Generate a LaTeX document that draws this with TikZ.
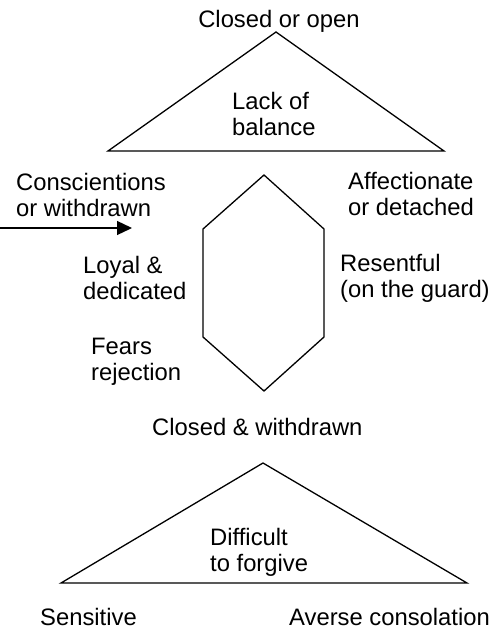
\documentclass[tikz,border=0pt]{standalone}
\usepackage{fontspec}
\setmainfont{Liberation Sans}
\usetikzlibrary{arrows.meta}
\begin{document}
\begin{tikzpicture}[x=1pt,y=-1pt,
  outline/.style={line width=1.3pt, line join=miter},
  lbl/.style={inner sep=0pt, anchor=base west, align=left, font=\fontsize{23.8}{26}\selectfont},
  arr/.style={line width=1.3pt, -{Triangle[length=15pt,width=14pt]}}]
\useasboundingbox (0,0) rectangle (501,632);
% top triangle
\coordinate (tA) at (276,32);
\coordinate (tL) at (108,151);
\coordinate (tR) at (444,151);
\draw[outline] (tA) -- (tR) -- (tL) -- cycle;
% hexagon
\coordinate (h1) at (264,175);
\coordinate (h2) at (324,229);
\coordinate (h3) at (324,337);
\coordinate (h4) at (264,391);
\coordinate (h5) at (203,337);
\coordinate (h6) at (203,229);
\draw[outline] (h1) -- (h2) -- (h3) -- (h4) -- (h5) -- (h6) -- cycle;
% bottom triangle
\coordinate (bA) at (263,463);
\coordinate (bL) at (61,583);
\coordinate (bR) at (467,583);
\draw[outline] (bA) -- (bR) -- (bL) -- cycle;
% arrow
\coordinate (arrS) at (0,228);
\coordinate (arrE) at (132,228);
\draw[arr] (arrS) -- (arrE);
% labels (multi-line nodes: base = last line)
\node[lbl, anchor=base] (closedopen) at (279,27) {Closed or open};
\node[lbl] (lack) at (232,135) {Lack of\\balance};
\node[lbl] (consc) at (16,216) {Conscientions\\or withdrawn};
\node[lbl] (affect) at (348,215) {Affectionate\\or detached};
\node[lbl] (loyal) at (83,299) {Loyal \&\\dedicated};
\node[lbl] (resent) at (340,297) {Resentful\\(on the guard)};
\node[lbl] (fears) at (91,380) {Fears\\rejection};
\node[lbl] (closedw) at (152,435) {Closed \& withdrawn};
\node[lbl] (diff) at (210,571) {Difficult\\to forgive};
\node[lbl] (sens) at (40,625) {Sensitive};
\node[lbl] (averse) at (289,625) {Averse consolation};
\end{tikzpicture}
\end{document}
